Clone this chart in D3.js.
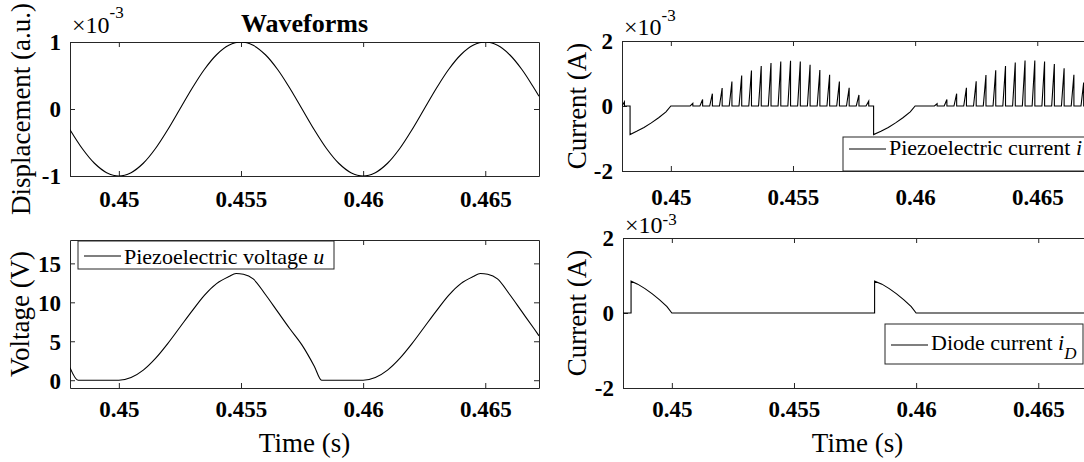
<!DOCTYPE html>
<html>
<head>
<meta charset="utf-8">
<style>
    body { margin: 0; background: #fff; }
    svg { display: block; }
</style>
</head>
<body>
<svg id="chart" width="1084" height="462"></svg>
<script src="https://cdn.jsdelivr.net/npm/d3@7"></script>
<script>
    // shared time axis (s)
    const timeRange = [0.448, 0.4672]
    const timeTicks = [0.45, 0.455, 0.46, 0.465]

    // displacement, x1e-3 a.u.
    const dispTime = [0.448, 0.4485, 0.449, 0.4495, 0.45, 0.4505, 0.451, 0.4515, 0.452, 0.4525,
        0.453, 0.4535, 0.454, 0.4545, 0.455, 0.4555, 0.456, 0.4565, 0.457, 0.4575,
        0.458, 0.4585, 0.459, 0.4595, 0.46, 0.4605, 0.461, 0.4615, 0.462, 0.4625,
        0.463, 0.4635, 0.464, 0.4645, 0.465, 0.4655, 0.466, 0.4665, 0.467, 0.4672]
    const dispValue = [-0.31, -0.59, -0.81, -0.95, -1, -0.95, -0.81, -0.59, -0.31, 0,
        0.31, 0.59, 0.81, 0.95, 1, 0.95, 0.81, 0.59, 0.31, 0,
        -0.31, -0.59, -0.81, -0.95, -1, -0.95, -0.81, -0.59, -0.31, 0,
        0.31, 0.59, 0.81, 0.95, 1, 0.95, 0.81, 0.59, 0.31, 0.19]

    // piezoelectric voltage, V
    const voltTime = [0.448, 0.44833, 0.45, 0.4505, 0.451, 0.4515, 0.452, 0.4525, 0.453, 0.4535,
        0.454, 0.4545, 0.4548, 0.4551, 0.4555, 0.456, 0.4565, 0.457, 0.4575, 0.458, 0.4583,
        0.46, 0.4605, 0.461, 0.4615, 0.462, 0.4625, 0.463, 0.4635, 0.464, 0.4645,
        0.4648, 0.4651, 0.4655, 0.466, 0.4665, 0.467, 0.4672]
    const voltValue = [1.6, 0, 0, 0.35, 1.3, 2.8, 4.7, 6.8, 8.9, 10.9,
        12.4, 13.3, 13.7, 13.6, 13.0, 11.0, 8.8, 6.6, 4.5, 1.8, 0,
        0, 0.35, 1.3, 2.8, 4.7, 6.8, 8.9, 10.9, 12.4, 13.3,
        13.7, 13.6, 13.0, 11.0, 8.8, 6.6, 5.7]

    // piezoelectric current between the switching spikes, x1e-3 A
    const currTime = [0.448, 0.44833, 0.44833, 0.4486, 0.4489, 0.4492, 0.4495, 0.4498, 0.45,
        0.4583, 0.4583, 0.4586, 0.4589, 0.4592, 0.4595, 0.4598, 0.46, 0.4672]
    const currValue = [0, 0, -0.88, -0.78, -0.66, -0.52, -0.36, -0.18, 0,
        0, -0.88, -0.78, -0.66, -0.52, -0.36, -0.18, 0, 0]

    // switching spikes of the piezoelectric current (peak time, height x1e-3 A)
    const spikeTime = [0.4481,
        0.4509, 0.4513, 0.4517, 0.4521, 0.4525, 0.4529, 0.4533, 0.4537, 0.4541, 0.4545,
        0.4549, 0.4553, 0.4557, 0.4561, 0.4565, 0.4569, 0.4573, 0.4577, 0.4581,
        0.4609, 0.4613, 0.4617, 0.4621, 0.4625, 0.4629, 0.4633, 0.4637, 0.4641, 0.4645,
        0.4649, 0.4653, 0.4657, 0.4661, 0.4665, 0.4669]
    const spikeHeight = [0.13,
        0.08, 0.2, 0.38, 0.55, 0.75, 0.94, 1.09, 1.23, 1.32, 1.37,
        1.39, 1.37, 1.27, 1.11, 0.96, 0.75, 0.56, 0.34, 0.15,
        0.07, 0.2, 0.38, 0.56, 0.76, 0.95, 1.1, 1.23, 1.34, 1.4,
        1.4, 1.37, 1.29, 1.16, 0.96, 0.72]

    // diode current, x1e-3 A
    const diodeTime = [0.448, 0.44833, 0.44833, 0.4486, 0.4489, 0.4492, 0.4495, 0.4498, 0.45,
        0.4583, 0.4583, 0.4586, 0.4589, 0.4592, 0.4595, 0.4598, 0.46, 0.4672]
    const diodeValue = [0, 0, 0.85, 0.77, 0.65, 0.51, 0.35, 0.17, 0,
        0, 0.85, 0.77, 0.65, 0.51, 0.35, 0.17, 0, 0]

    const font = '"Liberation Serif", "Times New Roman", serif'
    const axisColor = "#262626"
    const svg = d3.select("#chart")

    function zip(ts, vs) {
        return ts.map((t, i) => ({ t: t, v: vs[i] }))
    }

    // spikes rise over a short time then drop straight back to zero
    let currPoints = zip(currTime, currValue)
    spikeTime.forEach((s, i) => {
        currPoints.push({ t: s - 0.00011, v: 0 }, { t: s, v: spikeHeight[i] }, { t: s + 0.000001, v: 0 })
    })
    currPoints.sort((a, b) => a.t - b.t)

    function panel(p) {
        let x = d3.scaleLinear().domain(timeRange).range([p.left, p.right])
        let y = d3.scaleLinear().domain(p.yDomain).range([p.bottom, p.top])
        let g = svg.append("g")

        svg.append("clipPath").attr("id", "clip-" + p.id)
            .append("rect")
            .attr("x", p.left).attr("y", p.top)
            .attr("width", p.right - p.left).attr("height", p.bottom - p.top)

        g.append("g").attr("transform", `translate(0,${p.bottom})`)
            .call(d3.axisBottom(x).tickValues(timeTicks).tickSizeInner(-5).tickSizeOuter(0)
                .tickPadding(p.xPad).tickFormat(d => String(d)))
        g.append("g").attr("transform", `translate(0,${p.top})`)
            .call(d3.axisTop(x).tickValues(timeTicks).tickSizeInner(-5).tickSizeOuter(0).tickFormat(""))
        let left = g.append("g").attr("transform", `translate(${p.left},0)`)
            .call(d3.axisLeft(y).tickValues(p.yTicks).tickSizeInner(-5).tickSizeOuter(0)
                .tickPadding(9).tickFormat(d => String(d)))
        g.append("g").attr("transform", `translate(${p.right},0)`)
            .call(d3.axisRight(y).tickValues(p.yTicks).tickSizeInner(-5).tickSizeOuter(0).tickFormat(""))

        g.selectAll(".domain, .tick line").attr("stroke", axisColor).attr("stroke-width", 1)
        g.selectAll("g").attr("font-family", font).attr("font-size", 23)
        g.selectAll(".tick text").attr("fill", "#000").attr("font-weight", "bold")
        left.selectAll(".tick text").attr("dy", "0.34em")

        g.append("path")
            .datum(p.points)
            .attr("clip-path", `url(#clip-${p.id})`)
            .attr("fill", "none")
            .attr("stroke", "#000")
            .attr("stroke-width", 1.1)
            .attr("d", d3.line().x(d => x(d.t)).y(d => y(d.v)).curve(p.curve))

        // y label
        g.append("text")
            .attr("transform", `translate(${p.yLabelX},${(p.top + p.bottom) / 2}) rotate(-90)`)
            .attr("text-anchor", "middle")
            .attr("font-family", font).attr("font-size", 27)
            .text(p.yLabel)

        if (p.exponent) {
            let e = g.append("text")
                .attr("x", p.left + 2).attr("y", p.exponent)
                .attr("font-family", font).attr("font-size", 24)
            e.append("tspan").text("\u00d710")
            e.append("tspan").attr("dy", p.expShift).attr("font-size", 17).text("-3")
        }
        if (p.xLabel) {
            g.append("text")
                .attr("x", (p.left + p.right) / 2).attr("y", 452)
                .attr("text-anchor", "middle")
                .attr("font-family", font).attr("font-size", 27)
                .text(p.xLabel)
        }
        if (p.legend) {
            let L = p.legend
            g.append("rect")
                .attr("x", L.x).attr("y", L.y).attr("width", L.w).attr("height", L.h)
                .attr("fill", "#fff").attr("stroke", axisColor).attr("stroke-width", 1)
            g.append("line")
                .attr("x1", L.x + 6).attr("x2", L.x + 43)
                .attr("y1", L.lineY).attr("y2", L.lineY)
                .attr("stroke", "#000").attr("stroke-width", 1.1)
            let t = g.append("text")
                .attr("x", L.x + 46).attr("y", L.textY)
                .attr("font-family", font).attr("font-size", 22)
            t.append("tspan").text(L.text)
            t.append("tspan").attr("font-style", "italic").text(L.symbol)
            if (L.sub) {
                t.append("tspan").attr("font-style", "italic").attr("font-size", 17)
                    .attr("dy", 9).text(L.sub)
            }
        }
        return x
    }

    panel({
        id: "disp", left: 70, right: 539, top: 42, bottom: 176, xPad: 15,
        yDomain: [-1, 1], yTicks: [-1, 0, 1],
        points: zip(dispTime, dispValue), curve: d3.curveCatmullRom,
        yLabel: "Displacement (a.u.)", yLabelX: 30, exponent: 33, expShift: -15
    })
    panel({
        id: "curr", left: 622, right: 1091, top: 41, bottom: 171, xPad: 18,
        yDomain: [-2, 2], yTicks: [-2, 0, 2],
        points: currPoints, curve: d3.curveLinear,
        yLabel: "Current (A)", yLabelX: 586, exponent: 35, expShift: -14,
        legend: { x: 843, y: 137, w: 260, h: 34, lineY: 149, textY: 155,
            text: "Piezoelectric current ", symbol: "i" }
    })
    panel({
        id: "volt", left: 70, right: 539, top: 240, bottom: 388, xPad: 13,
        yDomain: [-1, 18], yTicks: [0, 5, 10, 15],
        points: zip(voltTime, voltValue), curve: d3.curveMonotoneX,
        yLabel: "Voltage (V)", yLabelX: 29, xLabel: "Time (s)",
        legend: { x: 78, y: 241, w: 256, h: 28, lineY: 256, textY: 264,
            text: "Piezoelectric voltage ", symbol: "u" }
    })
    panel({
        id: "diode", left: 623, right: 1092, top: 238, bottom: 388, xPad: 13,
        yDomain: [-2, 2], yTicks: [-2, 0, 2],
        points: zip(diodeTime, diodeValue), curve: d3.curveLinear,
        yLabel: "Current (A)", yLabelX: 586, exponent: 233, expShift: -8, xLabel: "Time (s)",
        legend: { x: 885, y: 324, w: 198, h: 40, lineY: 345, textY: 350,
            text: "Diode current ", symbol: "i", sub: "D" }
    })

    svg.append("text")
        .attr("x", 304.5).attr("y", 32)
        .attr("text-anchor", "middle")
        .attr("font-family", font).attr("font-size", 26).attr("font-weight", "bold")
        .text("Waveforms")
</script>
</body>
</html>
